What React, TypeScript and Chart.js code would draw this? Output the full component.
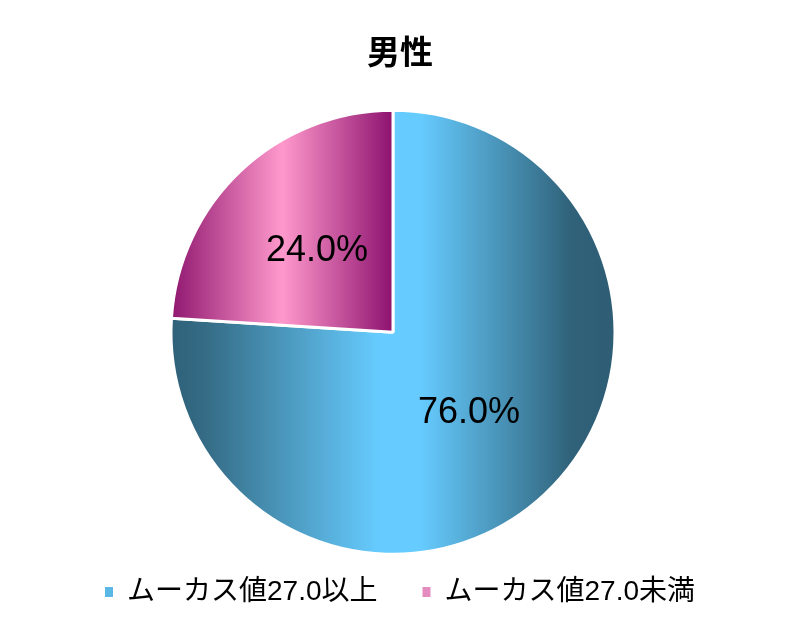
import React, { useEffect, useRef } from "react";
import Chart from "chart.js/auto";

const chartTitle = "男性";
const categories = ["ムーカス値27.0以上", "ムーカス値27.0未満"];
const shares = [76.0, 24.0];
const legendColors = ["#5ab8e6", "#e48cc0"];

// metallic horizontal gradients, dark -> light -> dark
const gradientStops: [number, string][][] = [
  [
    [0, "#2f6179"],
    [0.08, "#356c86"],
    [0.47, "#66ccff"],
    [0.56, "#66ccff"],
    [0.9, "#30627a"],
    [1, "#2e5d74"],
  ],
  [
    [0, "#8f176f"],
    [0.5, "#ff99cc"],
    [1, "#8d126f"],
  ],
];

const FONT = "'Liberation Sans', Arial, 'Noto Sans CJK JP', sans-serif";
const PIE_RADIUS = 222;

// pie sits a little left of the legend's centre in the original
const shiftPie = {
  id: "shiftPie",
  afterLayout(chart: any) {
    chart.chartArea.right -= 14;
    chart.chartArea.width = chart.chartArea.right - chart.chartArea.left;
  },
};

const sliceLabels = {
  id: "sliceLabels",
  afterDatasetsDraw(chart: any) {
    const { ctx } = chart;
    const meta = chart.getDatasetMeta(0);
    ctx.save();
    ctx.font = `36px ${FONT}`;
    ctx.fillStyle = "#000";
    ctx.textAlign = "center";
    ctx.textBaseline = "middle";
    meta.data.forEach((arc: any, i: number) => {
      const mid = (arc.startAngle + arc.endAngle) / 2;
      const d = arc.outerRadius * 0.5;
      ctx.fillText(
        shares[i].toFixed(1) + "%",
        arc.x + Math.cos(mid) * d,
        arc.y + Math.sin(mid) * d
      );
    });
    ctx.restore();
  },
};

const App = () => {
  const chartRef = useRef<HTMLCanvasElement | null>(null);

  useEffect(() => {
    document.body.style.margin = "0";
    if (!chartRef.current) return;
    const ctx = chartRef.current.getContext("2d");
    if (!ctx) return;

    const chart = new Chart(ctx, {
      type: "pie",
      data: {
        labels: categories,
        datasets: [
          {
            data: shares,
            backgroundColor: (c: any) => {
              const area = c.chart.chartArea;
              if (!area) return legendColors[c.dataIndex];
              const cx = (area.left + area.right) / 2;
              const r = PIE_RADIUS;
              // blue slice spans full width, pink slice only the left half
              const x0 = cx - r;
              const x1 = c.dataIndex === 0 ? cx + r : cx;
              const g = c.chart.ctx.createLinearGradient(x0, 0, x1, 0);
              gradientStops[c.dataIndex].forEach(([o, col]) => g.addColorStop(o, col));
              return g;
            },
            borderColor: "#ffffff",
            borderWidth: 3,
            hoverOffset: 0,
            radius: PIE_RADIUS,
            clip: false,
          } as any,
        ],
      },
      options: {
        responsive: true,
        maintainAspectRatio: false,
        animation: false,
        layout: { padding: { top: 0, bottom: 10 } },
        plugins: {
          title: {
            display: true,
            text: chartTitle,
            color: "#000",
            font: { family: "'Noto Sans CJK JP', sans-serif", size: 33, weight: "bold" },
            padding: { top: 32, bottom: 60 },
          },
          legend: {
            position: "bottom",
            labels: {
              color: "#000",
              font: { family: FONT, size: 28 },
              boxWidth: 8,
              boxHeight: 10,
              padding: 45,
              generateLabels: () =>
                categories.map((name, i) => ({
                  text: name,
                  fillStyle: legendColors[i],
                  strokeStyle: legendColors[i],
                  lineWidth: 0,
                  hidden: false,
                  index: i,
                })),
            },
          },
          tooltip: { enabled: false },
        },
      },
      plugins: [shiftPie, sliceLabels],
    });

    return () => {
      chart.destroy();
    };
  }, []);

  return (
    <div style={{ width: 800, height: 626, position: "relative" }}>
      <canvas ref={chartRef} />
    </div>
  );
};

export default App;
